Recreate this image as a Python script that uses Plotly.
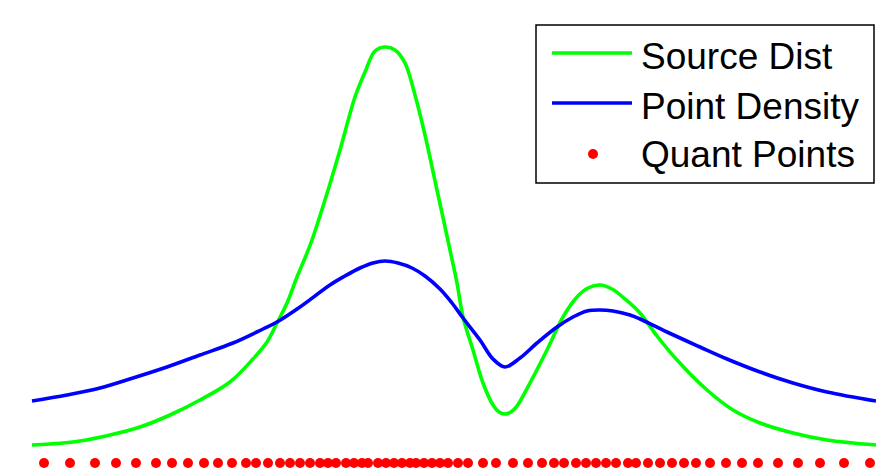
import plotly.graph_objects as go

# x positions (horizontal units) and heights
src_x = [32, 50, 80, 110, 140, 170, 200, 230, 253, 267, 277, 287, 297, 305, 312, 325, 340, 355, 365, 375,
         385, 395, 405, 415, 425, 437, 450, 457, 463, 473, 483, 493, 499, 505, 511, 517, 530, 547, 563, 577,
         588, 600, 612, 625, 640, 657, 677, 707, 733, 760, 793, 827, 876]
src_y = [18, 19, 22, 28, 36, 48, 63, 81, 104, 121, 140, 160, 186, 205, 223, 263, 313, 366, 391, 412,
         416, 413, 400, 368, 328, 273, 213, 180, 146, 113, 80, 58, 51, 49, 51, 57, 80, 113, 146, 166,
         175, 178, 174, 164, 150, 127, 103, 73, 53, 40, 30, 23, 18]

dens_x = [32, 67, 100, 133, 167, 200, 233, 263, 277, 300, 330, 345, 360, 373, 385, 398, 412, 425, 440,
          452, 463, 480, 493, 505, 520, 537, 557, 573, 587, 600, 613, 630, 640, 667, 700, 727, 760, 793, 827, 876]
dens_y = [62, 68, 75, 85, 96, 108, 120, 134, 141, 156, 178, 187, 195, 200, 202, 200, 195, 187, 174,
          160, 145, 123, 104, 96, 105, 120, 136, 146, 152, 153, 152, 148, 144, 131, 116, 104, 91, 80, 71, 62]

quant_x = [44, 70, 95, 116, 136, 156, 172, 188, 204, 218, 232, 246, 256, 268, 280, 290, 300, 310, 320,
           328, 336, 346, 354, 362, 368, 378, 386, 394, 402, 410, 416, 424, 432, 440, 448, 458, 468,
           483, 496, 513, 528, 542, 554, 564, 576, 586, 596, 606, 616, 628, 636, 648, 660, 672, 684,
           696, 710, 726, 742, 758, 778, 798, 820, 844, 870]
quant_y = [0] * len(quant_x)

legend_labels = ["Source Dist", "Point Density", "Quant Points"]

W, H = 876, 469
GREEN, BLUE, RED = "#00FF00", "#0000FF", "#FF0000"
LW = 3.6

fig = go.Figure()
fig.add_trace(go.Scatter(x=src_x, y=src_y, mode="lines", name=legend_labels[0],
                         line=dict(color=GREEN, width=LW, shape="spline", smoothing=1.0)))
fig.add_trace(go.Scatter(x=dens_x, y=dens_y, mode="lines", name=legend_labels[1],
                         line=dict(color=BLUE, width=LW, shape="spline", smoothing=1.0)))
fig.add_trace(go.Scatter(x=quant_x, y=quant_y, mode="markers", name=legend_labels[2],
                         marker=dict(color=RED, size=10, line=dict(width=0)), cliponaxis=False))

# custom legend (pixel -> paper helpers)
def px(x):
    return x / W

def py(y):
    return 1 - y / H

shapes = [dict(type="rect", xref="paper", yref="paper", x0=px(536), x1=px(874), y0=py(183), y1=py(25),
               line=dict(color="black", width=1.5), fillcolor="white", layer="above")]
rows = [53, 103, 154]
shapes.append(dict(type="line", xref="paper", yref="paper", x0=px(552), x1=px(632), y0=py(rows[0]), y1=py(rows[0]),
                   line=dict(color=GREEN, width=LW), layer="above"))
shapes.append(dict(type="line", xref="paper", yref="paper", x0=px(552), x1=px(632), y0=py(rows[1]), y1=py(rows[1]),
                   line=dict(color=BLUE, width=LW), layer="above"))
shapes.append(dict(type="circle", xref="paper", yref="paper", x0=px(588), x1=px(598), y0=py(159), y1=py(149),
                   line=dict(width=0), fillcolor=RED, layer="above"))

annotations = []
text_rows = [57, 106, 154]
for lab, r in zip(legend_labels, text_rows):
    annotations.append(dict(text=lab, xref="paper", yref="paper", x=px(639), y=py(r), xanchor="left",
                            yanchor="middle", showarrow=False,
                            font=dict(family="Liberation Sans, Arial, sans-serif", size=37, color="black")))

fig.update_layout(
    width=W, height=H,
    margin=dict(l=0, r=0, t=0, b=0),
    paper_bgcolor="white", plot_bgcolor="white",
    showlegend=False,
    xaxis=dict(range=[0, 876], visible=False, fixedrange=True),
    yaxis=dict(range=[-6, 463], visible=False, fixedrange=True),
    shapes=shapes, annotations=annotations,
)

fig.write_html("out.html")
